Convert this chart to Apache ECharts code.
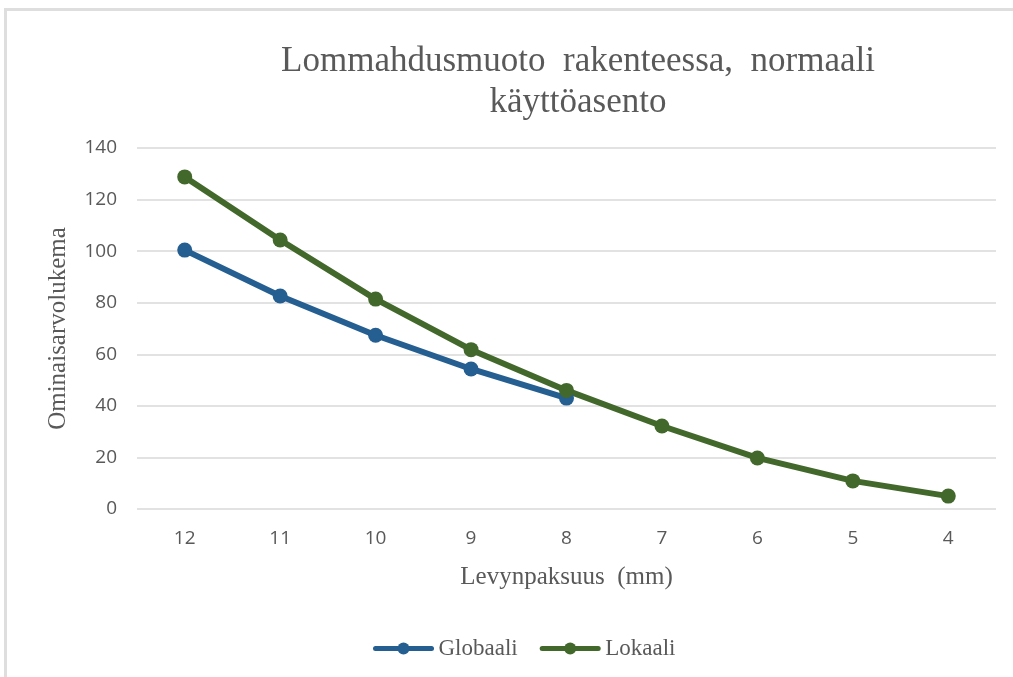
<!DOCTYPE html>
<html>
<head>
<meta charset="utf-8">
<script src="https://cdn.jsdelivr.net/npm/echarts@6/dist/echarts.min.js"></script>
<style>
  html, body { margin: 0; padding: 0; background: #fff; }
  #chart { width: 1013px; height: 677px; }
</style>
</head>
<body>
<div id="chart"></div>
<script>
// levynpaksuus (mm)
const thickness = ['12', '11', '10', '9', '8', '7', '6', '5', '4'];
// ominaisarvoluvut
const globaali = [100.4, 82.6, 67.4, 54.3, 43.0, null, null, null, null];
const lokaali = [128.8, 104.3, 81.4, 61.8, 46.0, 32.2, 19.8, 10.9, 5.0];

const serif = '"Liberation Serif", "DejaVu Serif", serif';
const sans = '"Open Sans", "Noto Sans", sans-serif';

const chart = echarts.init(document.getElementById('chart'));

chart.setOption({
  animation: false,
  graphic: [
    { type: 'rect', shape: { x: 5, y: 8, width: 1010, height: 3 }, style: { fill: '#dedede' } },
    { type: 'rect', shape: { x: 4, y: 8, width: 3, height: 670 }, style: { fill: '#dedede' } }
  ],
  title: {
    text: 'Lommahdusmuoto  rakenteessa,  normaali\nkäyttöasento',
    left: 573,
    top: 36,
    textAlign: 'center',
    textStyle: {
      fontFamily: serif,
      fontSize: 35,
      fontWeight: 'normal',
      color: '#595959',
      lineHeight: 41
    }
  },
  legend: {
    top: 632,
    left: 368,
    itemWidth: 56,
    itemHeight: 15,
    itemGap: 22,
    lineStyle: { width: 5 },
    textStyle: { fontFamily: serif, fontSize: 23, color: '#595959', padding: [0, 0, 0, 2] },
    data: ['Globaali', 'Lokaali']
  },
  grid: { left: 137, right: 17, top: 148, bottom: 168 },
  xAxis: {
    type: 'category',
    data: thickness,
    name: 'Levynpaksuus  (mm)',
    nameLocation: 'middle',
    nameGap: 56,
    nameTextStyle: { fontFamily: serif, fontSize: 25, color: '#595959' },
    axisLine: { show: false },
    axisTick: { show: false },
    axisLabel: { fontFamily: sans, fontSize: 19, color: '#595959', margin: 20 }
  },
  yAxis: {
    type: 'value',
    min: 0,
    max: 140,
    interval: 20,
    name: 'Ominaisarvolukema',
    nameLocation: 'middle',
    nameGap: 66,
    nameTextStyle: { fontFamily: serif, fontSize: 25, color: '#595959' },
    axisLine: { show: false },
    axisTick: { show: false },
    axisLabel: { fontFamily: sans, fontSize: 19, color: '#595959', margin: 20 },
    splitLine: { lineStyle: { color: '#d9d9d9', width: 1.5 } }
  },
  series: [
    {
      name: 'Globaali',
      type: 'line',
      data: globaali,
      color: '#255e91',
      symbol: 'circle',
      symbolSize: 15,
      lineStyle: { width: 6, cap: 'round' },
      itemStyle: { color: '#255e91' }
    },
    {
      name: 'Lokaali',
      type: 'line',
      data: lokaali,
      color: '#43682b',
      symbol: 'circle',
      symbolSize: 15,
      lineStyle: { width: 6, cap: 'round' },
      itemStyle: { color: '#43682b' }
    }
  ]
});
</script>
</body>
</html>
